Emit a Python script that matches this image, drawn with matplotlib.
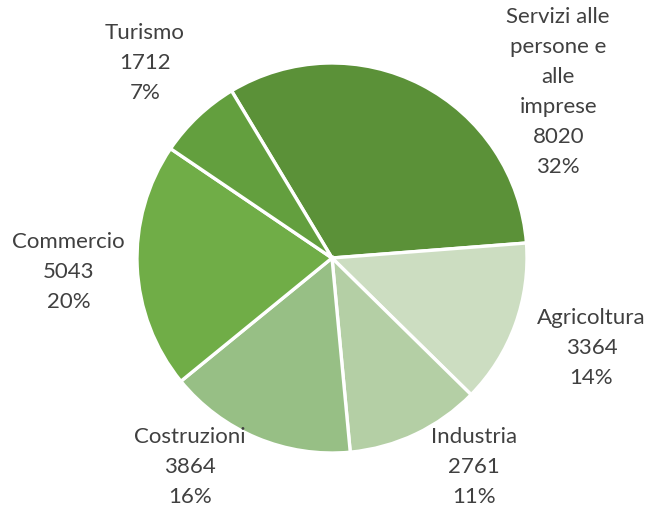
import matplotlib.pyplot as plt
import numpy as np

categories = ["Servizi alle\npersone e\nalle\nimprese", "Agricoltura", "Industria",
              "Costruzioni", "Commercio", "Turismo"]
values = [8020, 3364, 2761, 3864, 5043, 1712]
colors = ["#5b9138", "#ccddc1", "#b4cfa5", "#97bf85", "#70ad47", "#639f3e"]

# label block centres, in pie-radius units (Excel "best fit" placement)
label_pos = [(1.16, 0.85), (1.33, -0.46), (0.73, -1.07),
             (-0.73, -1.07), (-1.35, -0.07), (-0.96, 1.0)]

plt.rcParams['font.family'] = ['Lato', 'DejaVu Sans']

fig = plt.figure(figsize=(6.49, 5.07), dpi=100)
ax = fig.add_axes([0, 0, 1, 1])

wedges, _ = ax.pie(values, colors=colors, startangle=121, counterclock=False,
                   radius=1.0, wedgeprops=dict(edgecolor="white", linewidth=2.4))

total = sum(values)
for name, v, (x, y) in zip(categories, values, label_pos):
    pct = round(100 * v / total)
    ax.text(x, y, f"{name}\n{v}\n{pct}%", ha="center", va="center",
            fontsize=16, color="#404040", linespacing=1.62)

px = 195.0
ax.set_xlim(-332 / px, (649 - 332) / px)
ax.set_ylim(-249 / px, 258 / px)
ax.set_aspect("auto")
ax.axis("off")

fig.savefig("out.png", dpi=100)
